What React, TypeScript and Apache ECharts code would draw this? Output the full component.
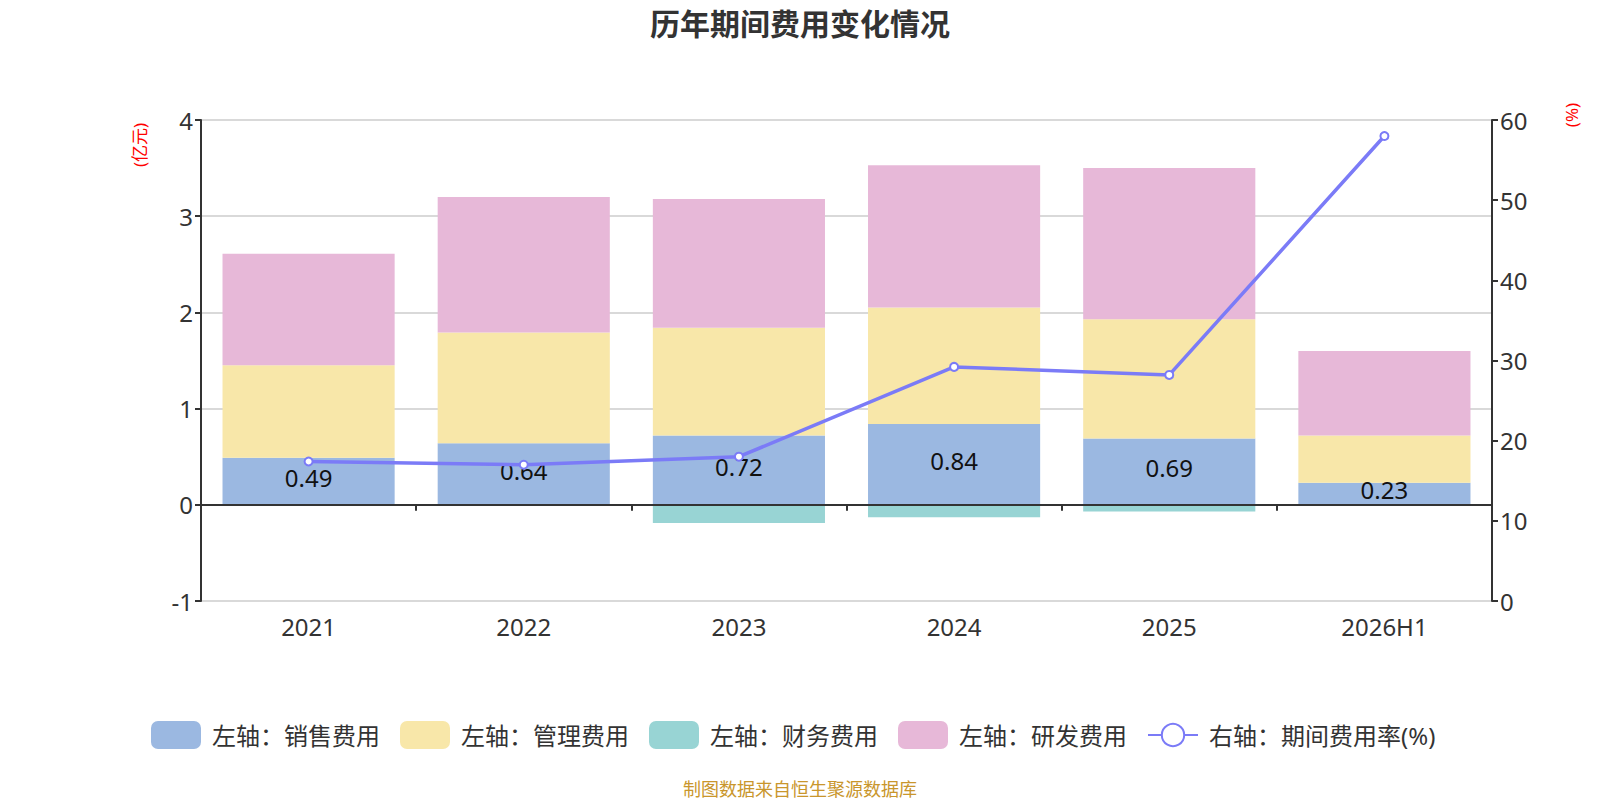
import React, { useEffect, useRef } from "react";
import * as echarts from "echarts";

const categories = ["2021", "2022", "2023", "2024", "2025", "2026H1"];
const salesExpense = [0.49, 0.64, 0.72, 0.84, 0.69, 0.23];
const adminExpense = [0.96, 1.15, 1.12, 1.21, 1.24, 0.49];
const financeExpense = [0.0, -0.01, -0.19, -0.13, -0.07, -0.01];
const rdExpense = [1.16, 1.41, 1.34, 1.48, 1.57, 0.88];
const expenseRate = [17.4, 17.0, 18.0, 29.2, 28.2, 58.0];

const seriesNames = ["左轴：销售费用", "左轴：管理费用", "左轴：财务费用", "左轴：研发费用", "右轴：期间费用率(%)"];
const leftTicks = { min: -1, max: 4, interval: 1 };
const rightTicks = { min: 0, max: 60, interval: 10 };

const FONT = "'Noto Sans', 'Noto Sans CJK SC', sans-serif";
const COLORS = ["#9BB8E1", "#F8E7A9", "#98D4D4", "#E7B8D8", "#7B7BF7"];

export default function App() {
  const ref = useRef<HTMLDivElement>(null);
  useEffect(() => {
    document.body.style.margin = "0";
    if (!ref.current) return;
    const chart = echarts.init(ref.current, null, { renderer: "svg" });
    const axisLabel = { color: "#333", fontSize: 24, fontFamily: FONT };
    const barSeries = (name: string, data: number[], color: string, withLabel = false) => ({
      name,
      type: "bar",
      stack: "cost",
      xAxisIndex: 0,
      yAxisIndex: 0,
      barCategoryGap: "20%",
      data,
      itemStyle: { color },
      label: withLabel
        ? { show: true, position: "inside", offset: [0, -4], color: "#111", fontSize: 24, fontFamily: FONT }
        : { show: false },
    });
    chart.setOption({
      animation: false,
      textStyle: { fontFamily: FONT },
      grid: { left: 201, right: 108, top: 120, bottom: 199, containLabel: false },
      legend: {
        left: 151,
        top: 721,
        padding: 0,
        itemWidth: 50,
        itemHeight: 28,
        itemGap: 20,
        textStyle: { color: "#333", fontSize: 24, fontFamily: FONT, padding: [0, 0, 0, 6] },
        data: [
          { name: seriesNames[0], icon: "roundRect" },
          { name: seriesNames[1], icon: "roundRect" },
          { name: seriesNames[2], icon: "roundRect" },
          { name: seriesNames[3], icon: "roundRect" },
          { name: seriesNames[4] },
        ],
      },
      xAxis: [
        {
          type: "category",
          data: categories,
          position: "bottom",
          axisLine: { show: true, onZero: true, onZeroAxisIndex: 0, lineStyle: { color: "#333", width: 2 } },
          axisTick: { show: true, length: 6, lineStyle: { color: "#333", width: 2 } },
          axisLabel: { show: false },
          splitLine: { show: false },
          z: 5,
        },
        {
          type: "category",
          data: categories,
          position: "bottom",
          axisLine: { show: false, onZero: false },
          axisTick: { show: false },
          axisLabel: { ...axisLabel, margin: 13 },
          splitLine: { show: false },
        },
      ],
      yAxis: [
        {
          type: "value",
          position: "left",
          ...leftTicks,
          axisLine: { show: true, lineStyle: { color: "#333", width: 2 } },
          axisTick: { show: true, length: 6, lineStyle: { color: "#333", width: 2 } },
          axisLabel: { ...axisLabel, margin: 8 },
          splitLine: { show: true, lineStyle: { color: "#ccc", width: 1.5 } },
        },
        {
          type: "value",
          position: "right",
          ...rightTicks,
          axisLine: { show: true, lineStyle: { color: "#333", width: 2 } },
          axisTick: { show: true, length: 6, lineStyle: { color: "#333", width: 2 } },
          axisLabel: { ...axisLabel, margin: 8 },
          splitLine: { show: false },
        },
      ],
      series: [
        barSeries(seriesNames[0], salesExpense, COLORS[0], true),
        barSeries(seriesNames[1], adminExpense, COLORS[1]),
        barSeries(seriesNames[2], financeExpense, COLORS[2]),
        barSeries(seriesNames[3], rdExpense, COLORS[3]),
        {
          name: seriesNames[4],
          type: "line",
          xAxisIndex: 0,
          yAxisIndex: 1,
          data: expenseRate,
          symbol: "emptyCircle",
          symbolSize: 8,
          lineStyle: { color: COLORS[4], width: 3.5 },
          itemStyle: { color: COLORS[4], borderWidth: 2 },
          z: 10,
        },
      ],
      graphic: [
        {
          type: "text",
          x: 800,
          y: 23,
          style: {
            text: "历年期间费用变化情况",
            fill: "#333",
            fontSize: 30,
            fontWeight: "bold",
            fontFamily: FONT,
            textAlign: "center",
            textVerticalAlign: "middle",
          },
        },
        {
          type: "text",
          x: 139,
          y: 145,
          rotation: Math.PI / 2,
          style: {
            text: "(亿元)",
            fill: "#f00",
            fontSize: 17,
            fontFamily: FONT,
            textAlign: "center",
            textVerticalAlign: "middle",
          },
        },
        {
          type: "text",
          x: 1571,
          y: 115,
          rotation: Math.PI / 2,
          style: {
            text: "(%)",
            fill: "#f00",
            fontSize: 17,
            fontFamily: FONT,
            textAlign: "center",
            textVerticalAlign: "middle",
          },
        },
        {
          type: "text",
          x: 800,
          y: 789,
          style: {
            text: "制图数据来自恒生聚源数据库",
            fill: "#C9962C",
            fontSize: 18,
            fontFamily: FONT,
            textAlign: "center",
            textVerticalAlign: "middle",
          },
        },
      ],
    });
    return () => chart.dispose();
  }, []);
  return <div ref={ref} style={{ width: 1600, height: 800 }} />;
}
